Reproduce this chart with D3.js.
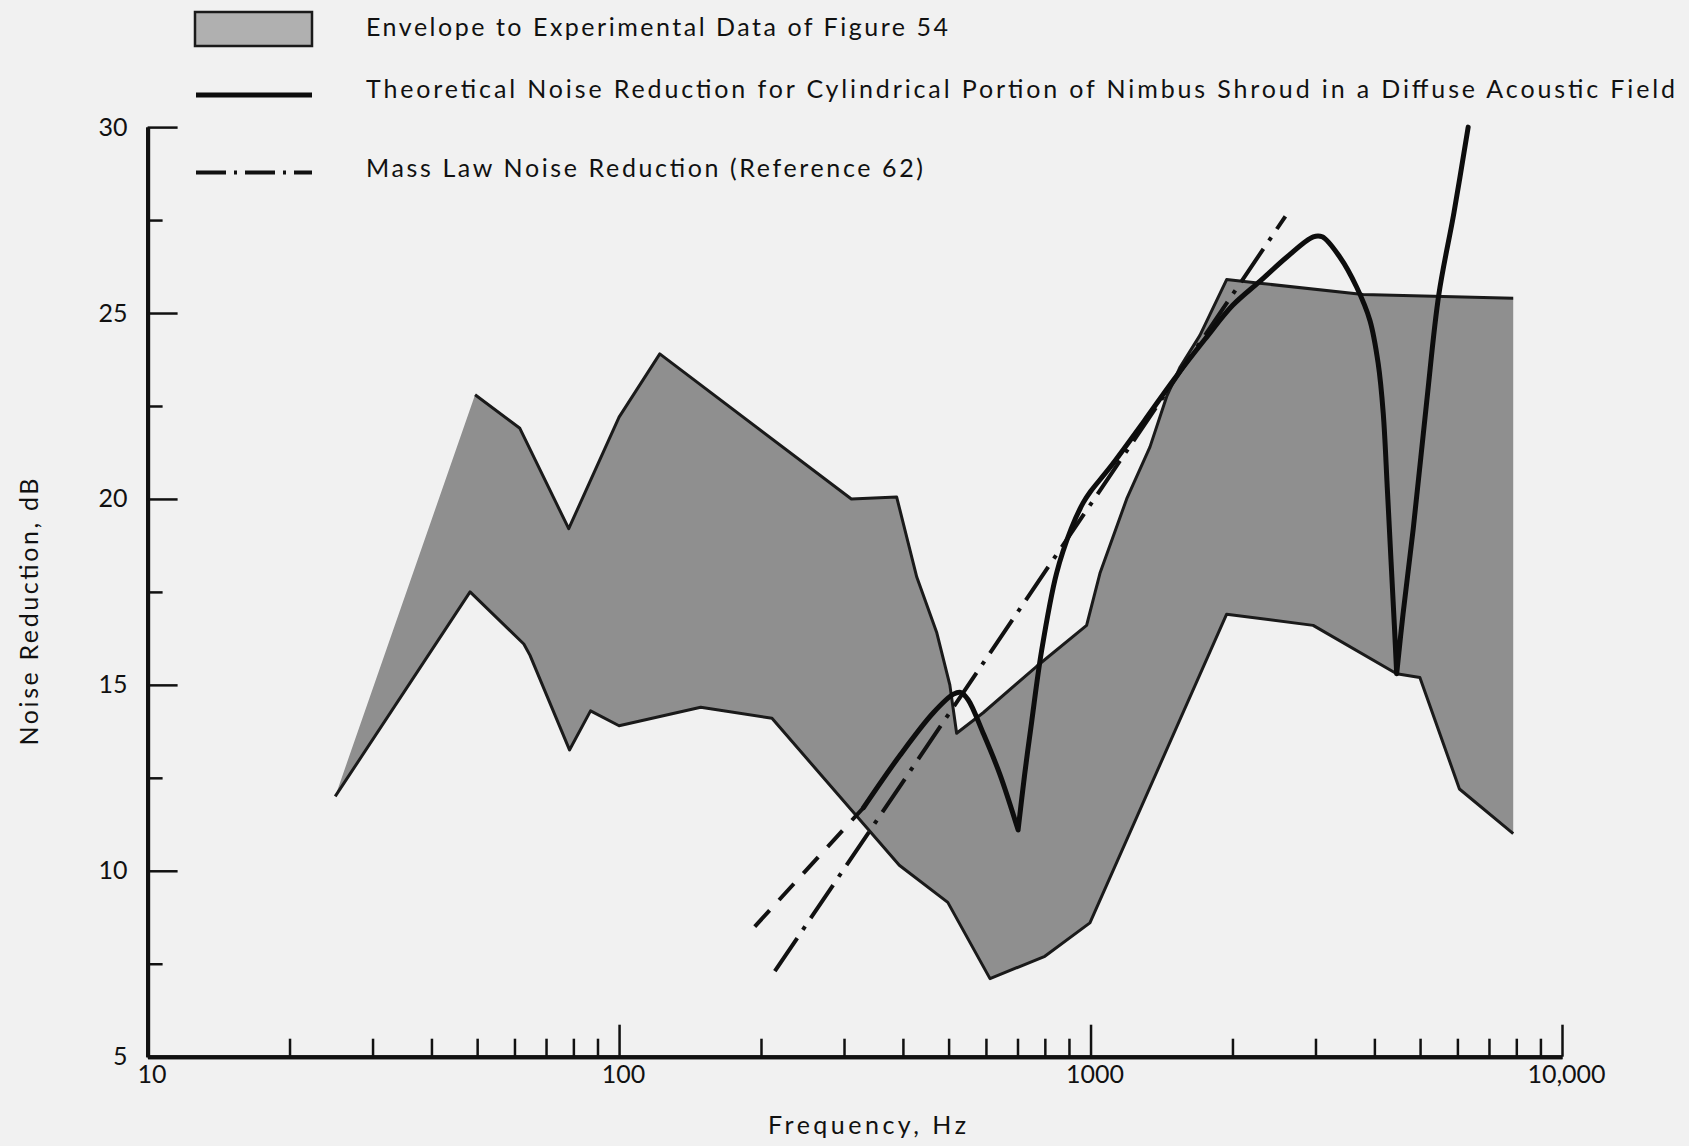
<!DOCTYPE html>
<html>
<head>
<meta charset="utf-8">
<script src="https://cdn.jsdelivr.net/npm/d3@7"></script>
<style>
  html, body { margin: 0; padding: 0; background: #f1f1f1; }
  svg { display: block; }
  text { font-family: Lato, "Noto Sans", sans-serif; fill: #111; }
</style>
</head>
<body>
<svg id="chart" width="1689" height="1146"></svg>
<script>
// ---------------- DATA ----------------
const xTickValues = [10, 100, 1000, 10000];
const xTickLabels = ["10", "100", "1000", "10,000"];
const xMinorTicks = [20,30,40,50,60,70,80,90,200,300,400,500,600,700,800,900,2000,3000,4000,5000,6000,7000,8000,9000];
const yTickValues = [5, 10, 15, 20, 25, 30];
const yMinorTicks = [7.5, 12.5, 17.5, 22.5, 27.5];

// Envelope to experimental data: upper boundary [Hz, dB]
const envelopeUpper = [
  [25, 12.0], [49.5, 22.8], [61.6, 21.9], [78.2, 19.2], [100, 22.2], [122, 23.9],
  [311, 20.0], [388, 20.05], [428, 17.9], [472, 16.4], [503, 15.0], [520, 13.7],
  [592, 14.25], [769, 15.5], [981, 16.6], [1047, 18.0], [1193, 20.0], [1337, 21.4],
  [1450, 22.75], [1549, 23.55], [1706, 24.4], [1944, 25.9], [2285, 25.8],
  [3786, 25.5], [7880, 25.4]
];
// Envelope lower boundary [Hz, dB]
const envelopeLower = [
  [25, 12.0], [48.3, 17.5], [62.8, 16.1], [64.7, 15.8], [78.5, 13.25], [87, 14.3],
  [100, 13.9], [149, 14.4], [211, 14.1], [393, 10.15], [498, 9.15], [612, 7.1],
  [800, 7.7], [997, 8.6], [1944, 16.9], [2966, 16.6], [4460, 15.3], [4995, 15.2],
  [6060, 12.2], [7880, 11.0]
];
// Theoretical noise reduction (solid) [Hz, dB]
const theorySolid = [
  [330, 11.7], [394, 13.1], [464, 14.25], [512, 14.75], [530, 14.8], [550, 14.6],
  [592, 13.7], [642, 12.6], [702, 11.1], [725, 12.6], [750, 14.0], [787, 15.9],
  [847, 18.0], [910, 19.2], [965, 19.9], [1000, 20.2], [1100, 20.85], [1300, 22.1],
  [1500, 23.2], [1750, 24.3], [2000, 25.2], [2285, 25.85], [2606, 26.5], [2967, 27.05],
  [3100, 27.05], [3381, 26.5], [3667, 25.7], [3914, 24.8], [4074, 23.65], [4177, 22.3],
  [4260, 20.3], [4340, 18.3], [4410, 16.6], [4460, 15.3], [4600, 16.9], [4836, 19.2],
  [5163, 22.6], [5480, 25.5], [5900, 27.7], [6324, 30.0]
];
// Theoretical curve, dashed low-frequency extension [Hz, dB]
const theoryDashed = [[194, 8.5], [330, 11.7]];
// Mass law noise reduction (Reference 62) [Hz, dB]
const massLaw = [[214, 7.3], [2590, 27.6]];

const legendLabels = [
  "Envelope to Experimental Data of Figure 54",
  "Theoretical Noise Reduction for Cylindrical Portion of Nimbus Shroud in a Diffuse Acoustic Field",
  "Mass Law Noise Reduction (Reference 62)"
];
const xAxisTitle = "Frequency, Hz";
const yAxisTitle = "Noise Reduction, dB";

// ---------------- CHART ----------------
const svg = d3.select("#chart");
svg.append("rect").attr("width", 1689).attr("height", 1146).attr("fill", "#f1f1f1");

const x = d3.scaleLog().domain([10, 10000]).range([147.6, 1562]);
const y = d3.scaleLinear().domain([5, 30]).range([1056.7, 127.1]);

const line = d3.line().x(d => x(d[0])).y(d => y(d[1])).curve(d3.curveLinear);
const smooth = d3.line().x(d => x(d[0])).y(d => y(d[1])).curve(d3.curveCatmullRom.alpha(0.5));

// envelope fill
const polygon = envelopeUpper.concat(envelopeLower.slice().reverse());
svg.append("path")
  .attr("d", line(polygon) + "Z")
  .attr("fill", "#8f8f8f")
  .attr("stroke", "none");
// envelope outlines
svg.append("path").attr("d", line(envelopeUpper.slice(1)))
  .attr("fill", "none").attr("stroke", "#1a1a1a").attr("stroke-width", 3).attr("stroke-linejoin", "round");
svg.append("path").attr("d", line(envelopeLower))
  .attr("fill", "none").attr("stroke", "#1a1a1a").attr("stroke-width", 3).attr("stroke-linejoin", "round");

// mass law (dash-dot)
svg.append("path").attr("d", line(massLaw))
  .attr("fill", "none").attr("stroke", "#111").attr("stroke-width", 4)
  .attr("stroke-dasharray", "40,10,4,10");
// dashed theoretical extension
svg.append("path").attr("d", line(theoryDashed))
  .attr("fill", "none").attr("stroke", "#111").attr("stroke-width", 4)
  .attr("stroke-dasharray", "22,14");

// theoretical solid: smooth pieces, sharp at the dips (local minima)
const cuts = [0];
for (let i = 1; i < theorySolid.length - 1; i++) {
  if (theorySolid[i][1] < theorySolid[i - 1][1] && theorySolid[i][1] < theorySolid[i + 1][1]) cuts.push(i);
}
cuts.push(theorySolid.length - 1);
let dTheory = "";
for (let k = 0; k < cuts.length - 1; k++) {
  dTheory += smooth(theorySolid.slice(cuts[k], cuts[k + 1] + 1));
}
svg.append("path").attr("d", dTheory)
  .attr("fill", "none").attr("stroke", "#0d0d0d").attr("stroke-width", 5)
  .attr("stroke-linejoin", "round").attr("stroke-linecap", "round");

// ---------------- AXES ----------------
const xAxisG = svg.append("g").attr("transform", `translate(0,${y(5)})`);
xAxisG.call(d3.axisBottom(x).tickValues(xMinorTicks).tickFormat("").tickSize(-18).tickSizeOuter(0));
xAxisG.selectAll(".tick line").attr("stroke-width", 2.5).attr("stroke", "#111");
const xMajorG = svg.append("g").attr("transform", `translate(0,${y(5)})`);
xMajorG.call(d3.axisBottom(x).tickValues(xTickValues)
  .tickFormat((d, i) => xTickLabels[i]).tickSize(-32).tickSizeOuter(0).tickPadding(9));
xMajorG.selectAll(".tick line").attr("stroke-width", 2.5).attr("stroke", "#111");
xMajorG.selectAll(".tick text").attr("font-size", 25).attr("font-family", "Lato").attr("dx", 4).attr("fill", "#111");

const yAxisG = svg.append("g").attr("transform", `translate(${x(10)},0)`);
yAxisG.call(d3.axisLeft(y).tickValues(yMinorTicks).tickFormat("").tickSize(-15).tickSizeOuter(0));
yAxisG.selectAll(".tick line").attr("stroke-width", 2.5).attr("stroke", "#111");
const yMajorG = svg.append("g").attr("transform", `translate(${x(10)},0)`);
yMajorG.call(d3.axisLeft(y).tickValues(yTickValues).tickFormat(d3.format("d"))
  .tickSize(-30).tickSizeOuter(0).tickPadding(20));
yMajorG.selectAll(".tick line").attr("stroke-width", 2.5).attr("stroke", "#111");
yMajorG.selectAll(".tick text").attr("font-size", 25).attr("font-family", "Lato").attr("fill", "#111");
svg.selectAll(".domain").attr("stroke", "#111").attr("stroke-width", 4);

// axis titles
svg.append("text").attr("x", 867).attr("y", 1134).attr("text-anchor", "middle")
  .attr("font-size", 25).attr("textLength", 198).attr("lengthAdjust", "spacing").text(xAxisTitle);
svg.append("text").attr("transform", "translate(38,612) rotate(-90)").attr("text-anchor", "middle")
  .attr("font-size", 25).attr("textLength", 267).attr("lengthAdjust", "spacing").text(yAxisTitle);

// ---------------- LEGEND ----------------
const legend = svg.append("g");
legend.append("rect").attr("x", 195).attr("y", 12).attr("width", 117).attr("height", 34)
  .attr("fill", "#b0b0b0").attr("stroke", "#1a1a1a").attr("stroke-width", 2.5);
legend.append("line").attr("x1", 196).attr("x2", 312).attr("y1", 95).attr("y2", 95)
  .attr("stroke", "#0d0d0d").attr("stroke-width", 5);
legend.append("line").attr("x1", 196).attr("x2", 312).attr("y1", 172.5).attr("y2", 172.5)
  .attr("stroke", "#111").attr("stroke-width", 4).attr("stroke-dasharray", "30,8,3,8");
const legendY = [36, 98, 177];
const legendW = [582, 1309, 557];
legendLabels.forEach((t, i) => {
  legend.append("text").attr("x", 366).attr("y", legendY[i]).attr("font-size", 25)
    .attr("textLength", legendW[i]).attr("lengthAdjust", "spacing").text(t);
});
</script>
</body>
</html>
